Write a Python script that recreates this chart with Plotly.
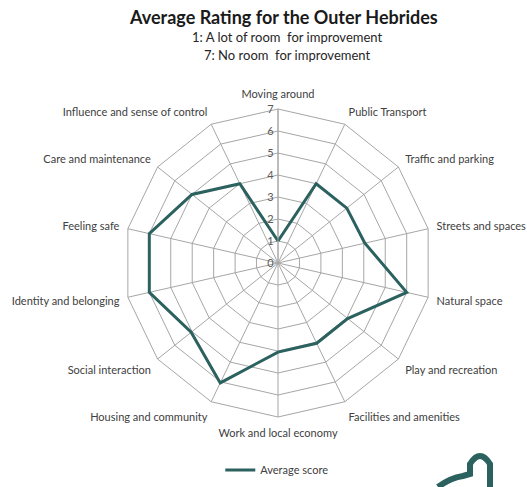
import plotly.graph_objects as go

categories = ["Moving around", "Public Transport", "Traffic and parking", "Streets and spaces",
              "Natural space", "Play and recreation", "Facilities and amenities",
              "Work and local economy", "Housing and community", "Social interaction",
              "Identity and belonging", "Feeling safe", "Care and maintenance",
              "Influence and sense of control"]
average_score = [1.0, 4.0, 4.0, 4.05, 6.0, 4.05, 4.05, 4.05, 6.05, 5.05, 6.0, 6.0, 5.0, 4.0]
radial_ticks = [0, 1, 2, 3, 4, 5, 6, 7]

W, H = 527, 487
cx, cy, R = 278, 263, 154
LINE = "#2B615F"
FONT = "Lato, 'Open Sans', sans-serif"

fig = go.Figure()
fig.add_trace(go.Scatterpolar(
    r=average_score + [average_score[0]],
    theta=categories + [categories[0]],
    mode="lines",
    line=dict(color=LINE, width=3),
    name="Average score",
))

fig.update_layout(
    width=W, height=H,
    margin=dict(l=0, r=0, t=0, b=0),
    paper_bgcolor="white",
    font=dict(family=FONT, size=11, color="#404040"),
    showlegend=True,
    legend=dict(orientation="h", x=0.418, y=0.035, xanchor="left", yanchor="middle",
                font=dict(size=11, color="#404040"), itemwidth=30, bgcolor="rgba(0,0,0,0)"),
    polar=dict(
        domain=dict(x=[(cx - R) / W, (cx + R) / W], y=[(H - cy - R) / H, (H - cy + R) / H]),
        gridshape="linear",
        bgcolor="white",
        angularaxis=dict(
            direction="clockwise", rotation=90,
            showline=True, linecolor="#A6A6A6", linewidth=1,
            gridcolor="#A6A6A6", gridwidth=1,
            ticks="outside", ticklen=6, tickcolor="rgba(0,0,0,0)",
            tickfont=dict(size=11, color="#404040"),
        ),
        radialaxis=dict(
            range=[0, 7], tickvals=radial_ticks, ticktext=[str(v) for v in radial_ticks],
            angle=90, tickangle=90, side="counterclockwise",
            showline=True, linecolor="#A6A6A6", linewidth=1,
            gridcolor="#A6A6A6", gridwidth=1,
            ticks="", tickfont=dict(size=11, color="#595959"),
        ),
    ),
    annotations=[
        dict(text="<b>Average Rating for the Outer Hebrides</b>", x=283 / W, y=1 - 17 / H,
             xanchor="center", yanchor="middle",
             xref="paper", yref="paper", showarrow=False, font=dict(size=18, color="#1a1a1a")),
        dict(text="1: A lot of room  for improvement", x=287 / W, y=1 - 37 / H,
             xanchor="center", yanchor="middle",
             xref="paper", yref="paper", showarrow=False, font=dict(size=13, color="#262626")),
        dict(text="7: No room  for improvement", x=287 / W, y=1 - 55 / H,
             xanchor="center", yanchor="middle",
             xref="paper", yref="paper", showarrow=False, font=dict(size=13, color="#262626")),
    ],
    shapes=[
        dict(type="path", xref="paper", yref="paper",
             path=f"M {438/W} {0} Q {450/W} {1-478/H} {463/W} {1-476/H} L {470/W} {1-474/H} L {470/W} {1-464/H} "
                  f"Q {480/W} {1-448/H} {490/W} {1-464/H} L {490/W} {0}",
             line=dict(color=LINE, width=6), fillcolor="rgba(0,0,0,0)"),
    ],
)

fig.write_html("out.html", config={"displayModeBar": False},
               post_script="document.body.style.margin='0';document.body.style.overflow='hidden';")
